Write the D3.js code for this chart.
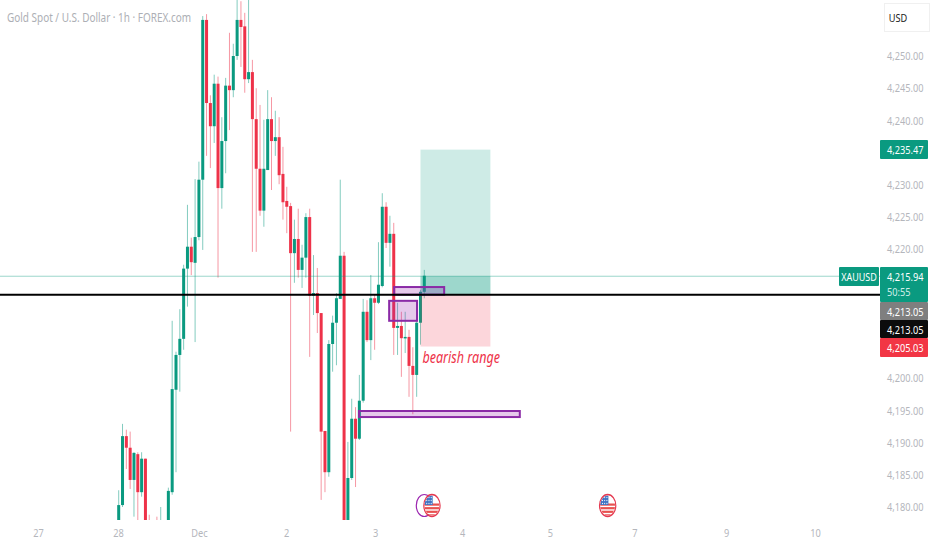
<!DOCTYPE html>
<html>
<head>
<meta charset="utf-8">
<title>XAUUSD 1h</title>
<script src="https://cdn.jsdelivr.net/npm/d3@7"></script>
<style>
  html, body { margin: 0; padding: 0; background: #fff; overflow: hidden; }
  text { font-family: "Noto Sans", sans-serif; }
</style>
</head>
<body>
<svg id="chart" width="932" height="550"></svg>
<script>
// hourly candles (bar 0 is the first one visible, late on the 27th)
const opens = [4175.2,4180.3,4191.0,4189.2,4184.2,4188.2,4182.3,4187.5,4176.8,4174.9,
  4175.7,4174.1,4176.4,4177.2,4182.3,4198.2,4203.6,4206.1,4217.0,4220.4,
  4217.9,4221.9,4230.8,4255.6,4242.7,4239.1,4245.7,4229.5,4236.8,4245.4,
  4244.7,4250.0,4255.6,4254.6,4246.4,4247.5,4240.2,4232.5,4226.0,4232.3,
  4240.2,4236.8,4237.4,4231.7,4227.5,4226.7,4219.4,4221.6,4216.8,4218.7,
  4225.0,4212.8,4213.2,4210.1,4191.8,4185.4,4205.3,4208.6,4212.3,4219.0,
  4174.1,4184.5,4193.7,4190.6,4196.5,4210.3,4205.9,4212.4,4211.7,4214.3,
  4226.6,4221.0,4222.4,4207.8,4208.1,4206.2,4206.4,4201.9,4200.5,4208.6,4213.4];
const highs = [4182.6,4192.9,4192.0,4191.7,4188.5,4188.5,4188.5,4187.5,4178.8,4177.2,
  4178.5,4180.0,4177.7,4183.0,4208.9,4204.1,4210.7,4217.6,4226.9,4221.8,
  4230.9,4233.6,4256.2,4256.5,4243.9,4247.1,4246.8,4240.5,4246.6,4253.6,
  4251.9,4259.9,4258.5,4256.7,4259.5,4249.4,4245.0,4242.4,4240.1,4244.7,
  4243.6,4241.5,4240.5,4235.9,4229.7,4227.2,4224.6,4226.3,4220.7,4225.6,
  4226.3,4219.1,4217.1,4210.1,4191.8,4205.9,4209.7,4213.2,4230.8,4219.6,
  4190.1,4196.8,4195.5,4200.5,4212.3,4212.1,4216.0,4212.9,4221.1,4228.7,
  4227.3,4225.2,4224.1,4211.7,4210.3,4210.3,4207.5,4204.8,4212.1,4213.7,4216.8];
const lows = [4174.1,4180.0,4185.9,4182.8,4178.5,4177.2,4181.6,4175.7,4173.6,4173.3,
  4173.0,4173.3,4175.2,4176.4,4181.9,4185.4,4197.9,4204.4,4211.1,4216.0,
  4205.6,4221.4,4219.9,4234.5,4232.6,4236.5,4215.6,4226.3,4231.8,4238.5,
  4243.6,4249.4,4248.3,4244.3,4245.8,4219.6,4219.6,4225.2,4223.5,4232.3,
  4229.2,4234.5,4230.1,4224.6,4222.5,4191.7,4214.8,4215.6,4214.0,4215.6,
  4203.3,4209.8,4207.0,4181.1,4182.3,4184.7,4201.0,4202.0,4212.3,4173.3,
  4173.3,4184.2,4183.1,4190.4,4196.2,4205.6,4202.8,4204.4,4211.5,4214.1,
  4220.2,4217.3,4203.6,4203.6,4200.2,4203.9,4197.1,4194.4,4197.1,4205.2,4212.4];
const closes = [4180.3,4191.0,4189.2,4184.2,4188.4,4182.3,4187.5,4176.8,4174.9,4175.7,
  4174.1,4176.4,4177.2,4182.5,4198.3,4203.6,4206.1,4217.0,4220.4,4218.0,
  4221.9,4230.8,4255.6,4242.7,4239.1,4245.7,4229.5,4236.8,4245.4,4244.7,
  4250.0,4255.6,4254.5,4246.4,4247.5,4240.2,4232.5,4226.0,4232.5,4240.2,
  4236.8,4237.4,4231.5,4227.3,4226.6,4219.4,4221.6,4216.8,4218.7,4225.0,
  4212.8,4213.2,4210.1,4191.7,4185.4,4205.3,4208.6,4212.4,4219.0,4174.1,
  4184.5,4193.7,4190.6,4196.5,4210.3,4205.9,4212.4,4211.7,4214.5,4226.6,
  4221.0,4222.4,4207.8,4208.1,4206.2,4206.4,4201.9,4200.5,4208.6,4213.4,4215.9];

const priceTicks = [4250,4245,4240,4230,4225,4220,4200,4195,4190,4185,4180];
const dayLabels = ["27","28","Dec","2","3","4","5","7","9","10"];
const dayBars = [-21.1,-0.2,21,43.8,67.1,89.9,112.9,135,159,182.3];

const lastPrice = 4215.94, linePrice = 4213.05;
const targetPrice = 4235.47, stopPrice = 4205.03;
const positionBars = [79, 97.3];

// drawn zones: [first bar, last bar, top price, bottom price]
const zoneA = [72.1, 85.2, 4214.14, 4212.95];
const zoneB = [70.8, 78.1, 4212.0, 4208.9];
const zoneC = [62.9, 105, 4194.9, 4193.96];
const eventBars = [82, 128];
const speechBar = 80;

const green = "#0a9a80", red = "#ee3249", grey = "#b4b6bc";
const plotRight = 880, plotBottom = 520;
const lineNudge = 0.8; // the price lines sit a touch lower than the tick grid

const svg = d3.select("#chart");
const x = d3.scaleLinear().domain([0, 80]).range([118.7, 424.3]);
const y = d3.scaleLinear().domain([4250, 4180]).range([56, 507]);
const yLine = v => y(v) + lineNudge;

// the screenshot is squeezed sideways, so text is narrowed to match
function squeeze(sel, k) {
  sel.each(function () {
    const w = this.getComputedTextLength();
    d3.select(this).attr("textLength", w * k).attr("lengthAdjust", "spacingAndGlyphs");
  });
  return sel;
}

svg.append("defs").append("clipPath").attr("id", "plot")
  .append("rect").attr("width", plotRight).attr("height", plotBottom);

const plot = svg.append("g").attr("clip-path", "url(#plot)");

// candles
const bars = d3.range(opens.length).map(i => ({
  i, o: opens[i], h: highs[i], l: lows[i], c: closes[i], up: closes[i] >= opens[i]
}));

plot.selectAll(".wick").data(bars).enter().append("line")
  .attr("class", "wick")
  .attr("x1", d => x(d.i)).attr("x2", d => x(d.i))
  .attr("y1", d => y(d.h)).attr("y2", d => y(d.l))
  .attr("stroke", d => d.up ? green : red)
  .attr("stroke-opacity", 0.5)
  .attr("stroke-width", 1);

plot.selectAll(".body").data(bars).enter().append("rect")
  .attr("class", "body")
  .attr("x", d => x(d.i) - 1.5)
  .attr("width", 3)
  .attr("y", d => y(Math.max(d.o, d.c)))
  .attr("height", d => Math.max(1.5, Math.abs(y(d.o) - y(d.c))))
  .attr("fill", d => d.up ? green : red);

// long position tool
const posX = x(positionBars[0]), posW = x(positionBars[1]) - posX;
plot.append("rect").attr("x", posX).attr("width", posW)
  .attr("y", y(targetPrice)).attr("height", yLine(linePrice) - y(targetPrice))
  .attr("fill", green).attr("fill-opacity", 0.2);
plot.append("rect").attr("x", posX).attr("width", posW)
  .attr("y", yLine(lastPrice)).attr("height", yLine(linePrice) - yLine(lastPrice))
  .attr("fill", green).attr("fill-opacity", 0.25);
plot.append("rect").attr("x", posX).attr("width", posW)
  .attr("y", yLine(linePrice)).attr("height", yLine(stopPrice) - yLine(linePrice))
  .attr("fill", red).attr("fill-opacity", 0.2);

// purple zones
plot.selectAll(".zone").data([zoneA, zoneB, zoneC]).enter().append("rect")
  .attr("class", "zone")
  .attr("x", d => x(d[0]))
  .attr("width", d => x(d[1]) - x(d[0]))
  .attr("y", d => y(d[2]))
  .attr("height", d => y(d[3]) - y(d[2]))
  .attr("fill", "#9c27b0").attr("fill-opacity", 0.25)
  .attr("stroke", "#8a2aa6").attr("stroke-width", 2);

// price lines
plot.append("line").attr("x1", 0).attr("x2", plotRight)
  .attr("y1", yLine(lastPrice)).attr("y2", yLine(lastPrice))
  .attr("stroke", green).attr("stroke-opacity", 0.4);
plot.append("line").attr("x1", 0).attr("x2", plotRight)
  .attr("y1", yLine(linePrice)).attr("y2", yLine(linePrice))
  .attr("stroke", "#000").attr("stroke-width", 2);

squeeze(svg.append("text").attr("x", x(positionBars[0]) + 2).attr("y", 362.5)
  .attr("fill", red).attr("font-size", 16.5).attr("font-style", "italic")
  .text("bearish range"), 0.76);

// axes, no domain or tick marks
const yAxis = d3.axisRight(y).tickValues(priceTicks).tickSize(0).tickPadding(0)
  .tickFormat(d3.format(",.2f"));
const gy = svg.append("g").attr("transform", "translate(887,0)").call(yAxis);
const xAxis = d3.axisBottom(x).tickValues(dayBars).tickSize(0).tickPadding(0)
  .tickFormat((d, i) => dayLabels[i]);
const gx = svg.append("g").attr("transform", "translate(0,529)").call(xAxis);
[gy, gx].forEach(g => {
  g.select(".domain").remove();
  g.selectAll("text").attr("fill", grey).style("font-size", "11.5px")
    .style("font-family", '"Noto Sans", sans-serif');
  squeeze(g.selectAll("text"), 0.8);
});

// title and currency button
squeeze(svg.append("text").attr("x", 7).attr("y", 21.5).attr("fill", "#adafb5")
  .attr("font-size", 12).text("Gold Spot / U.S. Dollar · 1h · FOREX.com"), 0.83);
svg.append("rect").attr("x", 884.5).attr("y", 3.5).attr("width", 45).attr("height", 28)
  .attr("fill", "#fff").attr("stroke", "#f0f0f0");
squeeze(svg.append("text").attr("x", 898).attr("y", 21.5).attr("text-anchor", "middle")
  .attr("fill", "#222").attr("font-size", 11.5).text("USD"), 0.8);

// labels on the price scale
function priceTag(top, h, fill, lines) {
  svg.append("rect").attr("x", 880).attr("y", top).attr("width", 48).attr("height", h)
    .attr("rx", 1).attr("fill", fill);
  lines.forEach((t, i) => {
    squeeze(svg.append("text").attr("x", 887).attr("y", top + 13.5 + i * 15)
      .attr("fill", i ? "#cfeee8" : "#fff").attr("font-size", 11.5).text(t), 0.8);
  });
}
const fmt = d3.format(",.2f");
priceTag(140, 19, green, [fmt(targetPrice)]);
priceTag(267, 35, green, [fmt(lastPrice), "50:55"]);
priceTag(302, 18, "#7f7f7f", [fmt(linePrice)]);
priceTag(320, 18, "#0c0c0c", [fmt(linePrice)]);
priceTag(338, 19, "#f23645", [fmt(stopPrice)]);

svg.append("rect").attr("x", 839).attr("y", 267).attr("width", 40).attr("height", 19)
  .attr("rx", 1).attr("fill", green);
squeeze(svg.append("text").attr("x", 859).attr("y", 280.5).attr("text-anchor", "middle")
  .attr("fill", "#fff").attr("font-size", 11.5).text("XAUUSD"), 0.78);

// event markers under the candles, ovals because of the same squeeze
const markerY = 505.5, squash = 0.74;
svg.append("ellipse").attr("cx", x(speechBar)).attr("cy", markerY)
  .attr("rx", 8).attr("ry", 11)
  .attr("fill", "#fff").attr("stroke", "#9c27b0").attr("stroke-width", 1.2);

eventBars.forEach((b, n) => {
  const g = svg.append("g").attr("transform", `translate(${x(b)},${markerY}) scale(${squash},1)`);
  g.append("clipPath").attr("id", "flag" + n).append("circle").attr("r", 10);
  const f = g.append("g").attr("clip-path", `url(#flag${n})`);
  f.append("rect").attr("x", -11).attr("y", -11).attr("width", 22).attr("height", 22).attr("fill", "#fff");
  d3.range(4).forEach(k => f.append("rect").attr("x", -11).attr("y", -2 + k * 3.6)
    .attr("width", 22).attr("height", 2.2).attr("fill", "#e8514f"));
  f.append("rect").attr("x", -11).attr("y", -11).attr("width", 12).attr("height", 10.5).attr("fill", "#3f74c4");
  d3.range(3).forEach(r => d3.range(3).forEach(c =>
    f.append("circle").attr("cx", -7 + c * 3).attr("cy", -8 + r * 3).attr("r", 0.7).attr("fill", "#fff")));
  g.append("circle").attr("r", 11).attr("fill", "none").attr("stroke", "#e53950").attr("stroke-width", 1.6);
});
</script>
</body>
</html>
